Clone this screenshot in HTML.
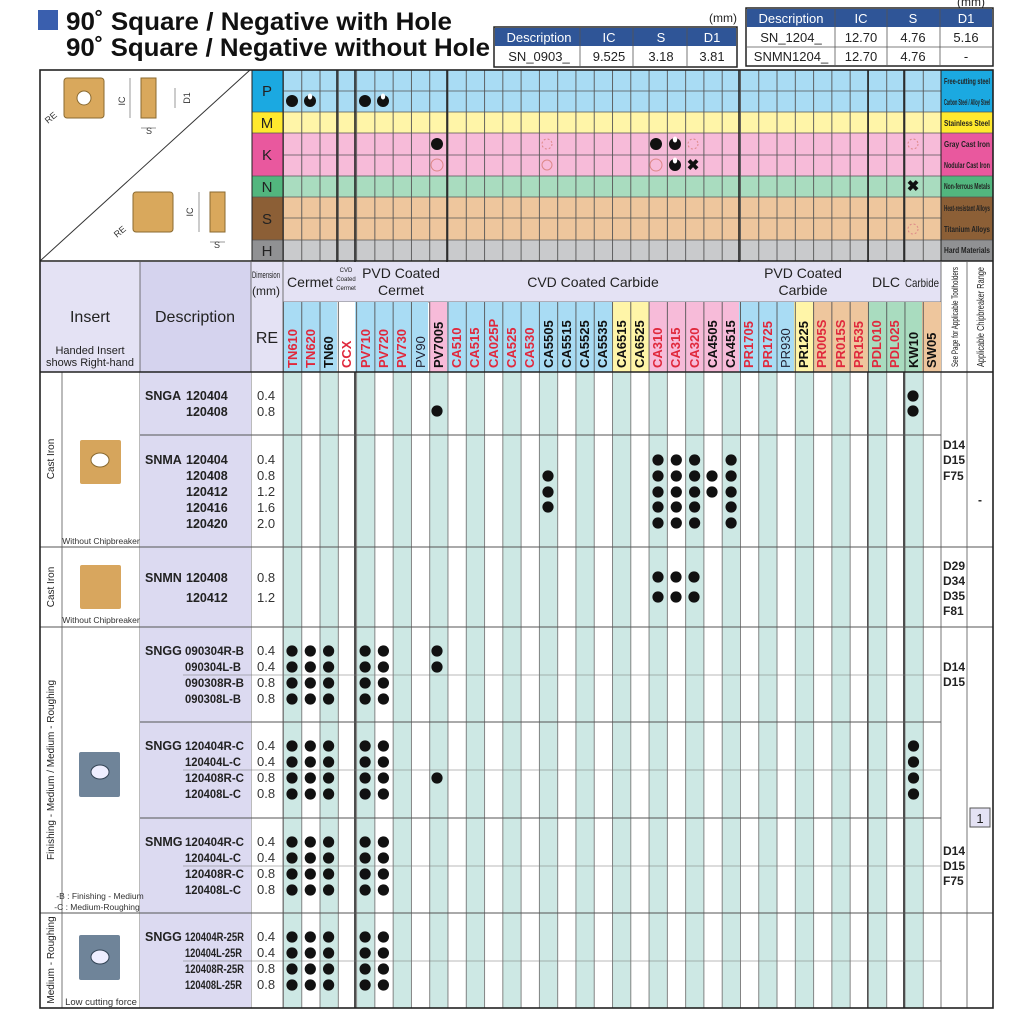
<!DOCTYPE html>
<html><head><meta charset="utf-8"><style>
html,body{margin:0;padding:0;background:#fff}
svg{display:block;font-family:"Liberation Sans",sans-serif}
</style></head><body>
<svg width="1024" height="1024" viewBox="0 0 1024 1024" xmlns="http://www.w3.org/2000/svg">
<defs>
<pattern id="vl" x="283" y="0" width="18.28" height="10" patternUnits="userSpaceOnUse"><rect x="0" y="0" width="0.9" height="10" fill="#555"/></pattern>
<pattern id="stripe" x="283" y="0" width="36.56" height="10" patternUnits="userSpaceOnUse"><rect x="0" y="0" width="18.28" height="10" fill="#cde8e4"/><rect x="0" y="0" width="0.9" height="10" fill="#777"/><rect x="18.28" y="0" width="0.9" height="10" fill="#777"/></pattern>
<g id="half"><circle cx="0" cy="0" r="6" fill="#111"/><ellipse cx="0" cy="-4.5" rx="2.2" ry="3" fill="#fff"/></g>
</defs>

<!-- Title -->
<rect x="38" y="10" width="20" height="20" fill="#3a5fae"/>
<text x="66" y="30" font-size="25" font-weight="bold" fill="#111" textLength="386" lengthAdjust="spacingAndGlyphs">90˚ Square / Negative with Hole</text>
<text x="66" y="56" font-size="25" font-weight="bold" fill="#111" textLength="424" lengthAdjust="spacingAndGlyphs">90˚ Square / Negative without Hole</text>

<!-- dim tables -->
<text x="737" y="22" font-size="12" text-anchor="end" fill="#222">(mm)</text>
<rect x="494" y="27" width="243" height="40" fill="#fff" stroke="#222" stroke-width="1.5"/>
<rect x="495" y="28" width="241" height="18" fill="#2f5597"/>
<g font-size="13" fill="#fff" text-anchor="middle"><text x="539" y="42">Description</text><text x="609" y="42">IC</text><text x="661" y="42">S</text><text x="712" y="42">D1</text></g>
<g stroke="#555" stroke-width="0.8"><line x1="580" y1="28" x2="580" y2="66"/><line x1="633" y1="28" x2="633" y2="66"/><line x1="687" y1="28" x2="687" y2="66"/></g>
<g font-size="13" fill="#222" text-anchor="middle"><text x="539" y="61">SN_0903_</text><text x="609" y="61">9.525</text><text x="661" y="61">3.18</text><text x="712" y="61">3.81</text></g>
<text x="985" y="6" font-size="12" text-anchor="end" fill="#222">(mm)</text>
<rect x="746" y="8" width="247" height="58" fill="#fff" stroke="#222" stroke-width="1.5"/>
<rect x="747" y="9" width="245" height="18" fill="#2f5597"/>
<g font-size="13" fill="#fff" text-anchor="middle"><text x="791" y="23">Description</text><text x="861" y="23">IC</text><text x="913" y="23">S</text><text x="966" y="23">D1</text></g>
<g stroke="#555" stroke-width="0.8"><line x1="835" y1="9" x2="835" y2="65"/><line x1="887" y1="9" x2="887" y2="65"/><line x1="940" y1="9" x2="940" y2="65"/><line x1="747" y1="47" x2="992" y2="47"/></g>
<g font-size="13" fill="#222" text-anchor="middle"><text x="791" y="42">SN_1204_</text><text x="861" y="42">12.70</text><text x="913" y="42">4.76</text><text x="966" y="42">5.16</text>
<text x="791" y="61">SNMN1204_</text><text x="861" y="61">12.70</text><text x="913" y="61">4.76</text><text x="966" y="61">-</text></g>

<!-- Top material area -->
<rect x="252" y="70" width="689" height="42" fill="#a9dcf4"/>
<rect x="252" y="112" width="689" height="21" fill="#fff5a8"/>
<rect x="252" y="133" width="689" height="43" fill="#f7bbd9"/>
<rect x="252" y="176" width="689" height="21" fill="#a9dcbf"/>
<rect x="252" y="197" width="689" height="43" fill="#eec69d"/>
<rect x="252" y="240" width="689" height="21" fill="#c9cacc"/>
<rect x="283" y="70" width="658" height="191" fill="url(#vl)"/>
<g stroke="none">
<rect x="252" y="70" width="31" height="42" fill="#1ba9e1"/>
<rect x="252" y="112" width="31" height="21" fill="#ffe92e"/>
<rect x="252" y="133" width="31" height="43" fill="#e9589e"/>
<rect x="252" y="176" width="31" height="21" fill="#52b67e"/>
<rect x="252" y="197" width="31" height="43" fill="#8c5f36"/>
<rect x="252" y="240" width="31" height="21" fill="#909193"/>
<rect x="941" y="70" width="52" height="42" fill="#1ba9e1"/>
<rect x="941" y="112" width="52" height="21" fill="#ffe92e"/>
<rect x="941" y="133" width="52" height="43" fill="#e9589e"/>
<rect x="941" y="176" width="52" height="21" fill="#52b67e"/>
<rect x="941" y="197" width="52" height="43" fill="#8c5f36"/>
<rect x="941" y="240" width="52" height="21" fill="#909193"/>
</g>
<g font-size="15" text-anchor="middle" fill="#222"><text x="267" y="96">P</text><text x="267" y="128">M</text><text x="267" y="160">K</text><text x="267" y="192">N</text><text x="267" y="224">S</text><text x="267" y="256">H</text></g>
<g font-size="8" font-weight="bold" text-anchor="middle" fill="#222">
<text x="967" y="84" textLength="46" lengthAdjust="spacingAndGlyphs">Free-cutting steel</text>
<text x="967" y="105" textLength="46" lengthAdjust="spacingAndGlyphs">Carbon Steel / Alloy Steel</text>
<text x="967" y="126" textLength="46" lengthAdjust="spacingAndGlyphs">Stainless Steel</text>
<text x="967" y="147" textLength="46" lengthAdjust="spacingAndGlyphs">Gray Cast Iron</text>
<text x="967" y="168" textLength="46" lengthAdjust="spacingAndGlyphs">Nodular Cast Iron</text>
<text x="967" y="189" textLength="46" lengthAdjust="spacingAndGlyphs">Non-ferrous Metals</text>
<text x="967" y="211" textLength="46" lengthAdjust="spacingAndGlyphs">Heat-resistant Alloys</text>
<text x="967" y="232" textLength="46" lengthAdjust="spacingAndGlyphs">Titanium Alloys</text>
<text x="967" y="253" textLength="46" lengthAdjust="spacingAndGlyphs">Hard Materials</text>
</g>
<g stroke="#555" stroke-width="0.8">
<line x1="283" y1="91" x2="941" y2="91"/><line x1="252" y1="112" x2="993" y2="112"/><line x1="252" y1="133" x2="993" y2="133"/>
<line x1="283" y1="155" x2="941" y2="155"/><line x1="252" y1="176" x2="993" y2="176"/><line x1="252" y1="197" x2="993" y2="197"/>
<line x1="283" y1="218" x2="941" y2="218"/><line x1="252" y1="240" x2="993" y2="240"/>
</g>
<g stroke="#222" stroke-width="1.6">
<line x1="337" y1="70" x2="337" y2="1008"/><line x1="355" y1="70" x2="355" y2="1008"/><line x1="447" y1="70" x2="447" y2="1008"/>
<line x1="739" y1="70" x2="739" y2="1008"/><line x1="868" y1="70" x2="868" y2="1008"/><line x1="904" y1="70" x2="904" y2="1008"/>
</g>
<!-- top symbols -->
<g fill="#111">
<circle cx="292" cy="101" r="6"/><use href="#half" x="310" y="101"/>
<circle cx="365" cy="101" r="6"/><use href="#half" x="383" y="101"/>
<circle cx="437" cy="144" r="6"/>
<circle cx="656" cy="144" r="6"/><use href="#half" x="675" y="144"/>
<use href="#half" x="675" y="165"/>
<text x="693" y="170" font-size="15" font-weight="bold" text-anchor="middle">✖</text>
<text x="913" y="191" font-size="15" font-weight="bold" text-anchor="middle">✖</text>
</g>
<g fill="none" stroke="#d88" stroke-width="1">
<circle cx="437" cy="165" r="6"/><circle cx="656" cy="165" r="6"/><circle cx="547" cy="165" r="5"/>
<circle cx="547" cy="144" r="5" stroke-dasharray="2,2"/><circle cx="693" cy="144" r="5" stroke-dasharray="2,2"/>
<circle cx="913" cy="144" r="5" stroke-dasharray="2,2"/><circle cx="913" cy="229" r="5" stroke-dasharray="2,2"/>
</g>

<!-- diagram area -->
<rect x="40" y="70" width="212" height="191" fill="#fff"/>
<line x1="40" y1="261" x2="250" y2="70" stroke="#333" stroke-width="1"/>
<rect x="64" y="78" width="40" height="40" rx="3" fill="#d9a85c" stroke="#8a6a30"/>
<circle cx="84" cy="98" r="7" fill="#fff" stroke="#8a6a30"/>
<rect x="141" y="78" width="15" height="40" fill="#d9a85c" stroke="#8a6a30"/>
<rect x="133" y="192" width="40" height="40" rx="3" fill="#d9a85c" stroke="#8a6a30"/>
<rect x="210" y="192" width="15" height="40" fill="#d9a85c" stroke="#8a6a30"/>
<g font-size="9" fill="#333"><text x="125" y="101" transform="rotate(-90 125 101)" text-anchor="middle">IC</text><text x="190" y="98" transform="rotate(-90 190 98)" text-anchor="middle">D1</text><text x="149" y="134" text-anchor="middle">S</text>
<text x="193" y="212" transform="rotate(-90 193 212)" text-anchor="middle">IC</text><text x="217" y="248" text-anchor="middle">S</text>
<text x="48" y="124" transform="rotate(-40 48 124)">RE</text><text x="117" y="238" transform="rotate(-40 117 238)">RE</text></g>
<g stroke="#555" stroke-width="0.6"><line x1="130" y1="78" x2="130" y2="118"/><line x1="175" y1="88" x2="175" y2="108"/><line x1="141" y1="128" x2="156" y2="128"/><line x1="199" y1="192" x2="199" y2="232"/><line x1="210" y1="242" x2="225" y2="242"/></g>

<!-- header -->
<rect x="40" y="262" width="100" height="110" fill="#e4e2f4"/>
<rect x="140" y="262" width="111" height="110" fill="#d5d3ee"/>
<rect x="251" y="262" width="690" height="40" fill="#e4e2f4"/>
<rect x="251" y="302" width="32" height="70" fill="#e4e2f4"/>
<rect x="941" y="262" width="52" height="110" fill="#fff"/>
<g stroke="#555" stroke-width="0.8">
<line x1="140" y1="262" x2="140" y2="1008"/><line x1="251" y1="262" x2="251" y2="1008"/><line x1="283" y1="262" x2="283" y2="1008"/>
<line x1="283" y1="302" x2="941" y2="302"/><line x1="941" y1="262" x2="941" y2="1008"/><line x1="967" y1="262" x2="967" y2="1008"/>
<line x1="62" y1="372" x2="62" y2="1008"/>
</g>
<g text-anchor="middle" fill="#222">
<text x="90" y="322" font-size="16">Insert</text>
<text x="90" y="354" font-size="11">Handed Insert</text><text x="90" y="366" font-size="11">shows Right-hand</text>
<text x="195" y="322" font-size="16">Description</text>
<text x="267" y="343" font-size="16">RE</text>
<text x="266" y="278" font-size="9" textLength="28" lengthAdjust="spacingAndGlyphs">Dimension</text>
<text x="266" y="295" font-size="12">(mm)</text>
<text x="310" y="287" font-size="14">Cermet</text>
<text x="346" y="272" font-size="6">CVD</text><text x="346" y="281" font-size="6">Coated</text><text x="346" y="290" font-size="6">Cermet</text>
<text x="401" y="278" font-size="14">PVD Coated</text><text x="401" y="295" font-size="14">Cermet</text>
<text x="593" y="287" font-size="14">CVD Coated Carbide</text>
<text x="803" y="278" font-size="14">PVD Coated</text><text x="803" y="295" font-size="14">Carbide</text>
<text x="886" y="287" font-size="14">DLC</text>
<text x="922" y="287" font-size="12" textLength="34" lengthAdjust="spacingAndGlyphs">Carbide</text>
<text transform="translate(958,317) rotate(-90)" font-size="9" textLength="100" lengthAdjust="spacingAndGlyphs">See Page for Applicable Toolholders</text>
<text transform="translate(984,317) rotate(-90)" font-size="10" textLength="100" lengthAdjust="spacingAndGlyphs">Applicable Chipbreaker Range</text>
</g>
<!-- grade header cells -->
<g stroke="none">
<rect x="283" y="302" width="54" height="70" fill="#a9dcf4"/>
<rect x="337" y="302" width="18" height="70" fill="#fff"/>
<rect x="355" y="302" width="73" height="70" fill="#a9dcf4"/>
<rect x="429" y="302" width="18" height="70" fill="#f7bbd9"/>
<rect x="447" y="302" width="165" height="70" fill="#a9dcf4"/>
<rect x="612" y="302" width="37" height="70" fill="#fff5a8"/>
<rect x="649" y="302" width="90" height="70" fill="#f7bbd9"/>
<rect x="739" y="302" width="55" height="70" fill="#a9dcf4"/>
<rect x="794" y="302" width="19" height="70" fill="#fff5a8"/>
<rect x="813" y="302" width="55" height="70" fill="#eec69d"/>
<rect x="868" y="302" width="55" height="70" fill="#a9dcbf"/>
<rect x="922" y="302" width="19" height="70" fill="#eec69d"/>
</g>
<rect x="283" y="302" width="658" height="70" fill="url(#vl)"/>
<g font-size="13" font-weight="bold" fill="#e0283c">
<text transform="translate(297,368) rotate(-90)">TN610</text>
<text transform="translate(315,368) rotate(-90)">TN620</text>
<text transform="translate(333,368) rotate(-90)" fill="#111">TN60</text>
<text transform="translate(351,368) rotate(-90)">CCX</text>
<text transform="translate(370,368) rotate(-90)">PV710</text>
<text transform="translate(388,368) rotate(-90)">PV720</text>
<text transform="translate(406,368) rotate(-90)">PV730</text>
<text transform="translate(425,368) rotate(-90)" fill="#223" font-weight="normal">PV90</text>
<text transform="translate(443,368) rotate(-90)" fill="#111">PV7005</text>
<text transform="translate(461,368) rotate(-90)">CA510</text>
<text transform="translate(479,368) rotate(-90)">CA515</text>
<text transform="translate(498,368) rotate(-90)">CA025P</text>
<text transform="translate(516,368) rotate(-90)">CA525</text>
<text transform="translate(534,368) rotate(-90)">CA530</text>
<g fill="#111">
<text transform="translate(553,368) rotate(-90)">CA5505</text>
<text transform="translate(571,368) rotate(-90)">CA5515</text>
<text transform="translate(589,368) rotate(-90)">CA5525</text>
<text transform="translate(607,368) rotate(-90)">CA5535</text>
<text transform="translate(626,368) rotate(-90)">CA6515</text>
<text transform="translate(644,368) rotate(-90)">CA6525</text>
</g>
<text transform="translate(662,368) rotate(-90)">CA310</text>
<text transform="translate(680,368) rotate(-90)">CA315</text>
<text transform="translate(699,368) rotate(-90)">CA320</text>
<text transform="translate(717,368) rotate(-90)" fill="#111">CA4505</text>
<text transform="translate(735,368) rotate(-90)" fill="#111">CA4515</text>
<text transform="translate(753,368) rotate(-90)">PR1705</text>
<text transform="translate(772,368) rotate(-90)">PR1725</text>
<text transform="translate(790,368) rotate(-90)" fill="#223" font-weight="normal">PR930</text>
<text transform="translate(808,368) rotate(-90)" fill="#111">PR1225</text>
<text transform="translate(826,368) rotate(-90)">PR005S</text>
<text transform="translate(845,368) rotate(-90)">PR015S</text>
<text transform="translate(863,368) rotate(-90)">PR1535</text>
<text transform="translate(881,368) rotate(-90)">PDL010</text>
<text transform="translate(899,368) rotate(-90)">PDL025</text>
<text transform="translate(918,368) rotate(-90)" fill="#111">KW10</text>
<text transform="translate(936,368) rotate(-90)" fill="#111">SW05</text>
</g>

<!-- body -->
<rect x="283" y="372" width="658" height="636" fill="url(#stripe)"/>
<rect x="140" y="372" width="111" height="636" fill="#dcdaf1"/>
<g stroke="#555" stroke-width="1">
<line x1="40" y1="372" x2="993" y2="372" stroke="#222" stroke-width="1.6"/>
<line x1="140" y1="435" x2="941" y2="435"/>
<line x1="40" y1="547" x2="993" y2="547"/>
<line x1="40" y1="627" x2="993" y2="627"/>
<line x1="140" y1="722" x2="941" y2="722"/>
<line x1="140" y1="818" x2="941" y2="818"/>
<line x1="40" y1="913" x2="993" y2="913"/>
</g>
<g stroke="#777" stroke-width="0.6">
<line x1="183" y1="675" x2="941" y2="675"/><line x1="183" y1="770" x2="941" y2="770"/><line x1="183" y1="866" x2="941" y2="866"/><line x1="183" y1="961" x2="941" y2="961"/>
</g>
<g font-size="10" fill="#222" text-anchor="middle">
<text transform="translate(54,459) rotate(-90)">Cast Iron</text>
<text transform="translate(54,587) rotate(-90)">Cast Iron</text>
<text transform="translate(54,770) rotate(-90)">Finishing - Medium / Medium - Roughing</text>
<text transform="translate(54,960) rotate(-90)">Medium - Roughing</text>
</g>
<g font-size="8.5" fill="#333" text-anchor="middle">
<text x="101" y="544">Without Chipbreaker</text><text x="101" y="623">Without Chipbreaker</text>
<text x="100" y="899">-B : Finishing - Medium</text><text x="97" y="910">-C : Medium-Roughing</text>
<text x="101" y="1005" font-size="9.5">Low cutting force</text>
</g>
<!-- insert pictures -->
<rect x="80" y="440" width="41" height="44" rx="2" fill="#d6a55c"/><ellipse cx="100" cy="460" rx="9" ry="7" fill="#fff" stroke="#8a6a30"/>
<rect x="80" y="565" width="41" height="44" rx="2" fill="#d8a65e"/>
<rect x="79" y="752" width="41" height="45" rx="2" fill="#6f8499"/><ellipse cx="100" cy="772" rx="9" ry="7" fill="#eef" stroke="#345"/>
<rect x="79" y="935" width="41" height="45" rx="2" fill="#6f8499"/><ellipse cx="100" cy="957" rx="9" ry="7" fill="#eef" stroke="#345"/>

<g font-size="12.5" font-weight="bold" fill="#222">
<text x="145" y="400">SNGA</text><text x="186" y="400">120404</text><text x="186" y="416">120408</text>
<text x="145" y="464">SNMA</text><text x="186" y="464">120404</text><text x="186" y="480">120408</text><text x="186" y="496">120412</text><text x="186" y="512">120416</text><text x="186" y="528">120420</text>
<text x="145" y="582">SNMN</text><text x="186" y="582">120408</text><text x="186" y="602">120412</text>
<text x="145" y="655">SNGG</text><text x="145" y="750">SNGG</text><text x="145" y="846">SNMG</text><text x="145" y="941">SNGG</text>
<g font-size="12" lengthAdjust="spacingAndGlyphs">
<text x="185" y="655" textLength="59" lengthAdjust="spacingAndGlyphs">090304R-B</text><text x="185" y="671" textLength="56" lengthAdjust="spacingAndGlyphs">090304L-B</text><text x="185" y="687" textLength="59" lengthAdjust="spacingAndGlyphs">090308R-B</text><text x="185" y="703" textLength="56" lengthAdjust="spacingAndGlyphs">090308L-B</text>
<text x="185" y="750" textLength="59" lengthAdjust="spacingAndGlyphs">120404R-C</text><text x="185" y="766" textLength="56" lengthAdjust="spacingAndGlyphs">120404L-C</text><text x="185" y="782" textLength="59" lengthAdjust="spacingAndGlyphs">120408R-C</text><text x="185" y="798" textLength="56" lengthAdjust="spacingAndGlyphs">120408L-C</text>
<text x="185" y="846" textLength="59" lengthAdjust="spacingAndGlyphs">120404R-C</text><text x="185" y="862" textLength="56" lengthAdjust="spacingAndGlyphs">120404L-C</text><text x="185" y="878" textLength="59" lengthAdjust="spacingAndGlyphs">120408R-C</text><text x="185" y="894" textLength="56" lengthAdjust="spacingAndGlyphs">120408L-C</text>
<text x="185" y="941" textLength="59" lengthAdjust="spacingAndGlyphs">120404R-25R</text><text x="185" y="957" textLength="57" lengthAdjust="spacingAndGlyphs">120404L-25R</text><text x="185" y="973" textLength="59" lengthAdjust="spacingAndGlyphs">120408R-25R</text><text x="185" y="989" textLength="57" lengthAdjust="spacingAndGlyphs">120408L-25R</text>
</g>
</g>
<g font-size="13" fill="#333">
<text x="257" y="400">0.4</text><text x="257" y="416">0.8</text>
<text x="257" y="464">0.4</text><text x="257" y="480">0.8</text><text x="257" y="496">1.2</text><text x="257" y="512">1.6</text><text x="257" y="528">2.0</text>
<text x="257" y="582">0.8</text><text x="257" y="602">1.2</text>
<text x="257" y="655">0.4</text><text x="257" y="671">0.4</text><text x="257" y="687">0.8</text><text x="257" y="703">0.8</text>
<text x="257" y="750">0.4</text><text x="257" y="766">0.4</text><text x="257" y="782">0.8</text><text x="257" y="798">0.8</text>
<text x="257" y="846">0.4</text><text x="257" y="862">0.4</text><text x="257" y="878">0.8</text><text x="257" y="894">0.8</text>
<text x="257" y="941">0.4</text><text x="257" y="957">0.4</text><text x="257" y="973">0.8</text><text x="257" y="989">0.8</text>
</g>
<g font-size="12" font-weight="bold" fill="#222">
<text x="943" y="449">D14</text><text x="943" y="464">D15</text><text x="943" y="480">F75</text>
<text x="943" y="570">D29</text><text x="943" y="585">D34</text><text x="943" y="600">D35</text><text x="943" y="615">F81</text>
<text x="943" y="671">D14</text><text x="943" y="686">D15</text>
<text x="943" y="855">D14</text><text x="943" y="870">D15</text><text x="943" y="885">F75</text>
<text x="978" y="504">-</text>
</g>
<rect x="970" y="808" width="20" height="19" fill="#e4e2f4" stroke="#555"/>
<text x="980" y="823" font-size="13" text-anchor="middle" fill="#222">1</text>

<!-- dots -->
<g fill="#111">
<circle cx="437" cy="411" r="5.6"/><circle cx="913" cy="396" r="5.6"/><circle cx="913" cy="411" r="5.6"/>
<circle cx="548" cy="476" r="5.6"/><circle cx="548" cy="492" r="5.6"/><circle cx="548" cy="507" r="5.6"/>
<g id="c5"><circle cx="658" cy="460" r="5.6"/><circle cx="658" cy="476" r="5.6"/><circle cx="658" cy="492" r="5.6"/><circle cx="658" cy="507" r="5.6"/><circle cx="658" cy="523" r="5.6"/></g>
<use href="#c5" x="18.3"/><use href="#c5" x="36.6"/><use href="#c5" x="73.1"/>
<circle cx="712" cy="476" r="5.6"/><circle cx="712" cy="492" r="5.6"/>
<circle cx="658" cy="577" r="5.6"/><circle cx="676" cy="577" r="5.6"/><circle cx="694" cy="577" r="5.6"/>
<circle cx="658" cy="597" r="5.6"/><circle cx="676" cy="597" r="5.6"/><circle cx="694" cy="597" r="5.6"/>
<g id="r4"><circle cx="292" cy="651" r="5.6"/><circle cx="292" cy="667" r="5.6"/><circle cx="292" cy="683" r="5.6"/><circle cx="292" cy="699" r="5.6"/></g>
<use href="#r4" x="18.3"/><use href="#r4" x="36.6"/><use href="#r4" x="73.1"/><use href="#r4" x="91.4"/>
<circle cx="437" cy="651" r="5.6"/><circle cx="437" cy="667" r="5.6"/>
<g id="r4b"><use href="#r4" y="95"/><use href="#r4" x="18.3" y="95"/><use href="#r4" x="36.6" y="95"/><use href="#r4" x="73.1" y="95"/><use href="#r4" x="91.4" y="95"/></g>
<use href="#r4b" y="96"/><use href="#r4b" y="191"/>
<circle cx="437" cy="778" r="5.6"/>
<use href="#r4" x="621.5" y="95"/>
</g>

<!-- outer borders -->
<rect x="40" y="70" width="953" height="938" fill="none" stroke="#222" stroke-width="1.6"/>
<line x1="40" y1="261" x2="993" y2="261" stroke="#222" stroke-width="1.6"/>
<line x1="252" y1="70" x2="252" y2="261" stroke="#222" stroke-width="1"/>
<line x1="283" y1="70" x2="283" y2="261" stroke="#222" stroke-width="1"/>
<line x1="941" y1="70" x2="941" y2="261" stroke="#222" stroke-width="1"/>
</svg>
</body></html>
